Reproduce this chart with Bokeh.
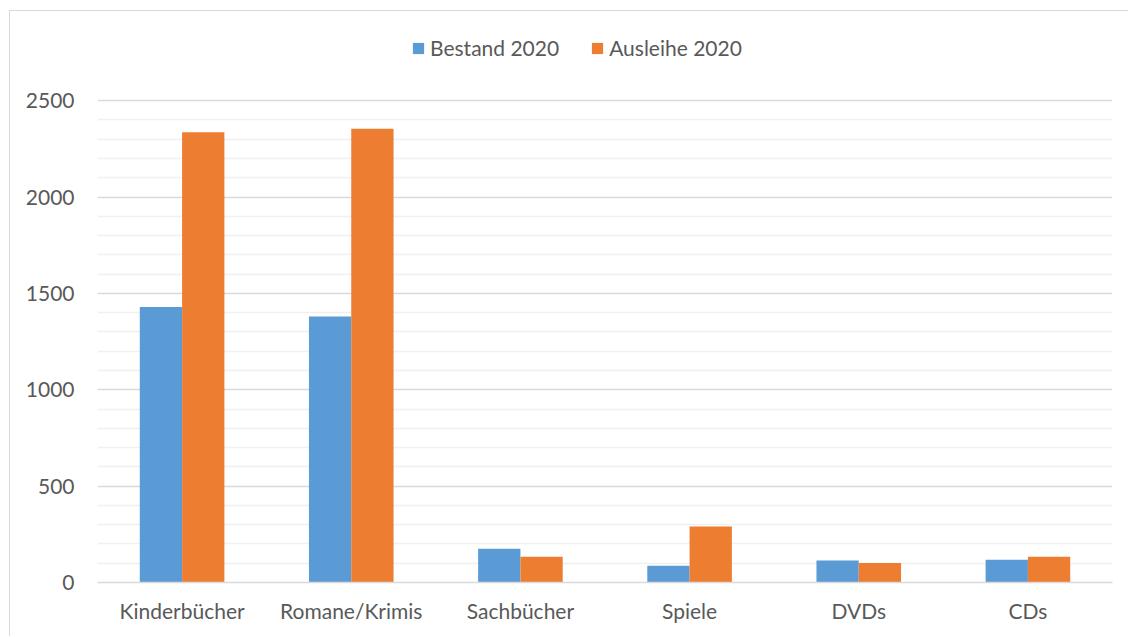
from bokeh.plotting import figure
from bokeh.models import FactorRange, Range1d, FixedTicker, Legend, LegendItem, ColumnDataSource
from bokeh.transform import dodge
from bokeh.embed import file_html
from bokeh.resources import INLINE

categories = ["Kinderbücher", "Romane/Krimis", "Sachbücher", "Spiele", "DVDs", "CDs"]
bestand_2020 = [1430, 1380, 175, 87, 114, 118]
ausleihe_2020 = [2336, 2354, 133, 291, 101, 133]
series_names = ["Bestand 2020", "Ausleihe 2020"]
major_ticks = [0, 500, 1000, 1500, 2000, 2500]
minor_ticks = [100, 200, 300, 400, 600, 700, 800, 900, 1100, 1200, 1300, 1400,
               1600, 1700, 1800, 1900, 2100, 2200, 2300, 2400]

FONT = "Lato"
TXT = "#595959"
FS = "21px"

src = ColumnDataSource(dict(cat=categories, b=bestand_2020, a=ausleihe_2020))

p = figure(x_range=FactorRange(*categories, range_padding=0), y_range=Range1d(0, 2916),
           width=1119, height=626, output_backend="svg", toolbar_location=None,
           min_border_left=87, min_border_right=17, min_border_top=9, min_border_bottom=55)
p.styles = {"margin-left": "9px", "margin-top": "10px",
            "border-left": "1px solid #d9d9d9", "border-top": "1px solid #d9d9d9"}
p.outline_line_color = None

r1 = p.vbar(x=dodge("cat", -0.125, range=p.x_range), top="b", width=0.25, source=src,
            fill_color="#5B9BD5", line_color=None)
r2 = p.vbar(x=dodge("cat", 0.125, range=p.x_range), top="a", width=0.25, source=src,
            fill_color="#ED7D31", line_color=None)

tk = FixedTicker(ticks=major_ticks, minor_ticks=minor_ticks)
p.yaxis.ticker = tk
p.ygrid.ticker = tk
p.ygrid.grid_line_color = "#d9d9d9"
p.ygrid.grid_line_width = 1.5
p.ygrid.minor_grid_line_color = "#f0f0f0"
p.ygrid.minor_grid_line_width = 1.5
p.xgrid.grid_line_color = None

p.yaxis.axis_line_color = None
p.yaxis.major_tick_line_color = None
p.yaxis.minor_tick_line_color = None
p.yaxis.major_label_standoff = 17
p.yaxis.major_label_text_font = FONT
p.yaxis.major_label_text_font_size = FS
p.yaxis.major_label_text_color = TXT

p.xaxis.axis_line_color = "#d9d9d9"
p.xaxis.axis_line_width = 1.5
p.xaxis.major_tick_line_color = None
p.xaxis.minor_tick_line_color = None
p.xaxis.major_label_standoff = 9
p.xaxis.major_label_text_font = FONT
p.xaxis.major_label_text_font_size = FS
p.xaxis.major_label_text_color = TXT

legend = Legend(items=[LegendItem(label=series_names[0], renderers=[r1]),
                       LegendItem(label=series_names[1], renderers=[r2])],
                orientation="horizontal", location=(314, 522),
                glyph_width=14, glyph_height=14, label_height=20, spacing=31,
                label_standoff=5, padding=0, margin=0,
                border_line_color=None, background_fill_alpha=0,
                label_text_font=FONT, label_text_font_size=FS,
                label_text_color=TXT)
p.add_layout(legend, "center")

open("out.html", "w").write(file_html(p, INLINE))
